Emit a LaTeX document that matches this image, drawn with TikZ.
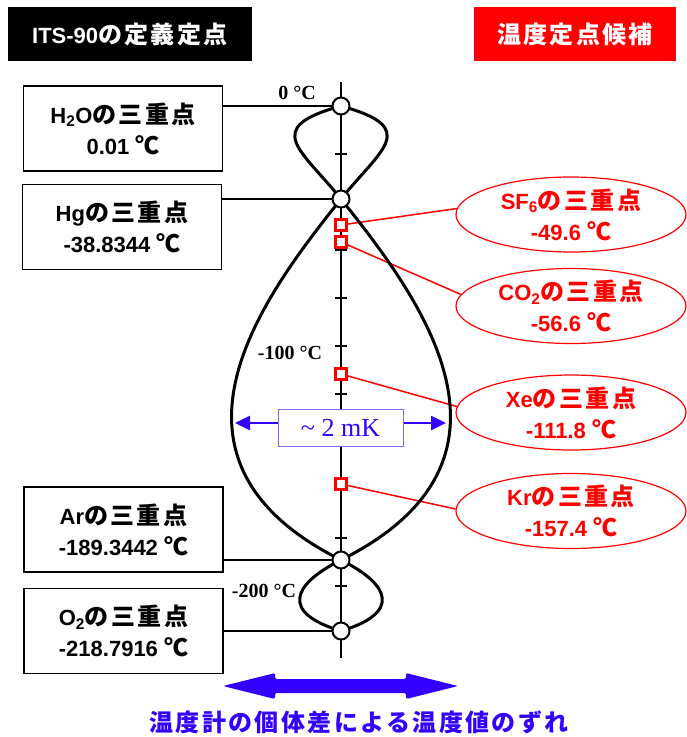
\documentclass[tikz,border=0pt]{standalone}
\usepackage{fontspec}
\setmainfont{Liberation Sans}
\newfontfamily\jpf[LetterSpace=10]{Noto Sans CJK JP}
\newfontfamily\tmsf{Liberation Serif}
\usetikzlibrary{arrows.meta,shapes.geometric}
\definecolor{myblue}{RGB}{51,0,255}
\definecolor{myred}{RGB}{255,0,0}
\newcommand\J[1]{{\jpf\bfseries\fontsize{24}{31}\selectfont #1}}
\begin{document}
\begin{tikzpicture}[x=1pt,y=1pt,
  lbox/.style={draw, line width=1.5pt, minimum width=199pt, minimum height=85pt, inner sep=0pt, align=center, font=\bfseries\fontsize{22}{31}\selectfont},
  rell/.style={ellipse, draw=myred, line width=1.2pt, minimum width=230pt, minimum height=75pt, inner sep=0pt, align=center, text=myred, font=\bfseries\fontsize{22}{31}\selectfont},
  fp/.style={circle, draw, line width=2pt, fill=white, minimum size=17pt, inner sep=0pt},
  cand/.style={rectangle, draw=myred, line width=2.5pt, fill=white, minimum size=11pt, inner sep=0pt},
  templbl/.style={font=\tmsf\bfseries\fontsize{20}{22}\selectfont, inner sep=0pt},
  conn/.style={line width=1.2pt},
  rconn/.style={draw=myred, line width=1.5pt},
  loopcurve/.style={line width=3pt, line cap=round, line join=round},
  hdr/.style={minimum height=54pt, inner sep=0pt, text=white, font=\bfseries\fontsize{22}{26}\selectfont}
]
\useasboundingbox (0,0) rectangle (687,-737);

% headers
\node[hdr, fill=black, minimum width=244pt] (title1) at (130,-34) {ITS-90\J{の定義定点}};
\node[hdr, fill=myred, minimum width=202pt] (title2) at (575,-34) {\J{温度定点候補}};

% axis and ticks
\draw[line width=1.3pt] (341,-82) -- (341,-658);
\foreach \k in {0,...,11} \draw[line width=1.2pt] (335,{-106-48*\k}) -- (347,{-106-48*\k});

% coordinates of fixed points
\coordinate (cH2O) at (341,-106);
\coordinate (cHg) at (341,-199);
\coordinate (cAr) at (341,-560);
\coordinate (cO2) at (341,-631);

% left boxes
\node[lbox] (bH2O) at (123,-128.5) {H\textsubscript{2}O\J{の三重点}\\0.01 \J{℃}};
\node[lbox] (bHg) at (122,-227) {Hg\J{の三重点}\\-38.8344 \J{℃}};
\node[lbox] (bAr) at (123.5,-529.5) {Ar\J{の三重点}\\-189.3442 \J{℃}};
\node[lbox] (bO2) at (123.5,-631) {O\textsubscript{2}\J{の三重点}\\-218.7916 \J{℃}};

\draw[conn] (bH2O.east |- cH2O) -- (cH2O);
\draw[conn] (bHg.east |- cHg) -- (cHg);
\draw[conn] (bAr.east |- cAr) -- (cAr);
\draw[conn] (bO2.east |- cO2) -- (cO2);

% right ellipses
\node[rell] (eSF6) at (571,-214.5) {SF\textsubscript{6}\J{の三重点}\\-49.6 \J{℃}};
\node[rell] (eCO2) at (571,-306) {CO\textsubscript{2}\J{の三重点}\\-56.6 \J{℃}};
\node[rell] (eXe) at (571,-412.5) {Xe\J{の三重点}\\-111.8 \J{℃}};
\node[rell] (eKr) at (571,-511) {Kr\J{の三重点}\\-157.4 \J{℃}};

% candidate squares
\coordinate (cSF6) at (341,-225);
\coordinate (cCO2) at (341,-242);
\coordinate (cXe) at (341,-374);
\coordinate (cKr) at (341,-484);

\draw[rconn] (cSF6) -- (eSF6.177);
\draw[rconn] (cCO2) -- (eCO2.174);
\draw[rconn] (cXe) -- (eXe.177);
\draw[rconn] (cKr) -- (eKr.179);

% curves
\draw[loopcurve] (cH2O) .. controls (421,-128) and (381,-149) .. (cHg)
  .. controls (261,-299) and (141,-460) .. (cAr)
  .. controls (391,-585) and (401,-613) .. (cO2);
\draw[loopcurve] (cH2O) .. controls (261,-128) and (301,-149) .. (cHg)
  .. controls (421,-299) and (541,-460) .. (cAr)
  .. controls (291,-585) and (281,-613) .. (cO2);

% squares and circles on top
\node[cand] (sSF6) at (cSF6) {};
\node[cand] (sCO2) at (cCO2) {};
\node[cand] (sXe) at (cXe) {};
\node[cand] (sKr) at (cKr) {};

\node[fp] (pH2O) at (cH2O) {};
\node[fp] (pHg) at (cHg) {};
\node[fp] (pAr) at (cAr) {};
\node[fp] (pO2) at (cO2) {};

% temperature labels
\node[templbl] (t0) at (297,-92.5) {0 °C};
\node[templbl] (t100) at (290,-353) {-100 °C};
\node[templbl] (t200) at (264,-590.5) {-200 °C};

% 2 mK box and arrows
\coordinate (aL) at (235,-423);
\coordinate (aR) at (446,-423);
\node[draw=myblue!60, line width=1pt, fill=white, minimum width=125pt, minimum height=37pt, inner sep=0pt, text=myblue, font=\tmsf\fontsize{26}{30}\selectfont] (mk) at (340.5,-427.5) {\textasciitilde{} 2 mK};
\draw[myblue, line width=2.5pt, -{Triangle[length=15pt,width=14pt]}] (mk.west |- aL) -- (aL);
\draw[myblue, line width=2.5pt, -{Triangle[length=15pt,width=14pt]}] (mk.east |- aR) -- (aR);

% bottom arrow
\fill[myblue, rounded corners=2pt] (223,-686) -- (275,-673) -- (275,-679) -- (406,-679) -- (406,-673) -- (458,-686) -- (406,-699) -- (406,-693) -- (275,-693) -- (275,-699) -- cycle;
\node[text=myblue, font=\bfseries, inner sep=0pt] (note) at (359,-722) {\J{温度計の個体差による温度値のずれ}};
\end{tikzpicture}
\end{document}
